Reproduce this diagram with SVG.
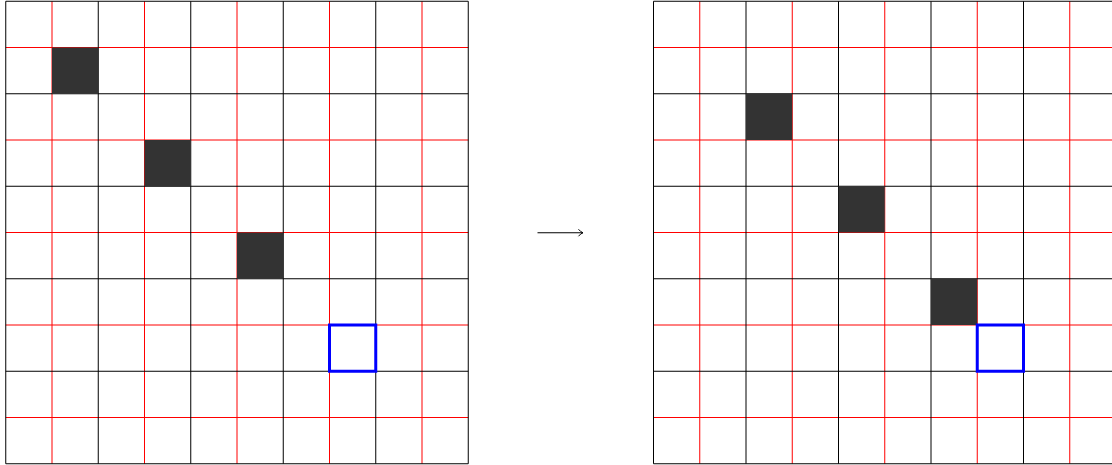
<svg xmlns="http://www.w3.org/2000/svg" width="1112" height="465" viewBox="0 0 1112 465">
<style>
.k{stroke:#000;stroke-width:1;fill:none}
.r{stroke:#f00;stroke-width:1;fill:none}
.d{fill:#333;stroke:none}
.b{fill:none;stroke:#00f;stroke-width:3}
.a{stroke:#000;stroke-width:1.2;fill:none}
</style>
<defs>
<marker id="ah" markerWidth="9" markerHeight="9" refX="6" refY="4.5" orient="auto" markerUnits="userSpaceOnUse">
<path d="M1.5,1 Q3.5,3.6 6,4.5 Q3.5,5.4 1.5,8" fill="none" stroke="#000" stroke-width="1"/>
</marker>
<g id="grid">
<path class="r" d="M46.25,0V462.5M138.75,0V462.5M231.25,0V462.5M323.75,0V462.5M416.25,0V462.5M0,46.25H462.5M0,138.75H462.5M0,231.25H462.5M0,323.75H462.5M0,416.25H462.5"/>
<path class="k" d="M0,0V462.5M92.5,0V462.5M185,0V462.5M277.5,0V462.5M370,0V462.5M462.5,0V462.5M0,0H462.5M0,92.5H462.5M0,185H462.5M0,277.5H462.5M0,370H462.5M0,462.5H462.5"/>
</g>
</defs>
<g id="left-grid" transform="translate(5.75,1.25)">
<use href="#grid"/>
<rect class="d" x="46.25" y="46.25" width="46.25" height="46.25"/>
<rect class="d" x="138.75" y="138.75" width="46.25" height="46.25"/>
<rect class="d" x="231.25" y="231.25" width="46.25" height="46.25"/>
<rect class="b" x="323.75" y="323.75" width="46.25" height="46.25"/>
</g>
<g id="right-grid" transform="translate(653.5,1.25)">
<use href="#grid"/>
<rect class="d" x="92.5" y="92.5" width="46.25" height="46.25"/>
<rect class="d" x="185" y="185" width="46.25" height="46.25"/>
<rect class="d" x="277.5" y="277.5" width="46.25" height="46.25"/>
<rect class="b" x="323.75" y="323.75" width="46.25" height="46.25"/>
</g>
<g id="connectors">
<line class="a" x1="537.5" y1="232.75" x2="583" y2="232.75" marker-end="url(#ah)"/>
</g>
</svg>
